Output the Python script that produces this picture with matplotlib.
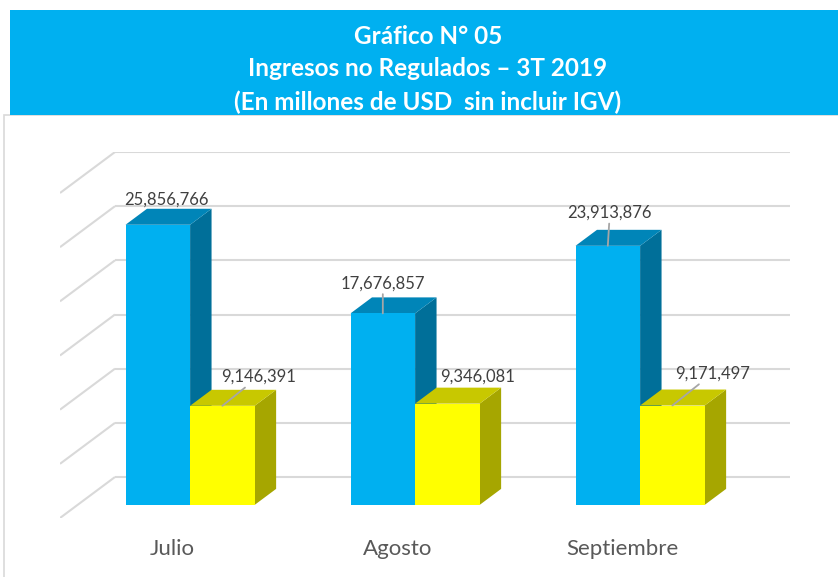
import matplotlib
matplotlib.use("Agg")
import matplotlib.pyplot as plt
from matplotlib.patches import Polygon, Rectangle

# ---- data ----
meses = ["Julio", "Agosto", "Septiembre"]
serie_azul = [25856766, 17676857, 23913876]
serie_amarilla = [9146391, 9346081, 9171497]
titulo = ["Gráfico N° 05", "Ingresos no Regulados – 3T 2019", "(En millones de USD  sin incluir IGV)"]

# ---- layout / style ----
W, H = 838, 577
FONT = ["Lato", "DejaVu Sans"]
plt.rcParams["font.family"] = FONT

fig = plt.figure(figsize=(W / 100, H / 100), dpi=100)
fig.patch.set_facecolor("white")

# chart frame border
fig.patches.append(Rectangle((4 / W, -0.1), 1.2, 1 - 115 / H + 0.1, transform=fig.transFigure,
                             fill=False, edgecolor="#D9D9D9", lw=1.2))
# title band
fig.patches.append(Rectangle((10 / W, 1 - 115 / H), 1.0, 105 / H, transform=fig.transFigure,
                             facecolor="#00B0F0", edgecolor="none"))
for k, (line, yy) in enumerate(zip(titulo, [37, 69, 102])):
    fig.text(428 / W, 1 - yy / H, line, ha="center", va="center", color="white",
             fontsize=17.5, fontweight="bold")

ax = fig.add_axes([60 / W, (H - 518) / H, 730 / W, 366 / H])
ax.axis("off")

ymax = 30e6
step = 5e6
px_per_unit = 325 / ymax
Ddx = 55 / 225          # depth shift (category units)
Ddy = 41 / px_per_unit  # depth shift (value units)
ax.set_xlim(-0.5, 2.5 + Ddx)
ax.set_ylim(0, ymax + Ddy)

grid_c = "#D9D9D9"
v = 0.0
while v <= ymax + 1:
    ax.plot([-0.5, -0.5 + Ddx], [v, v + Ddy], color=grid_c, lw=1.5, solid_capstyle="butt", zorder=1)
    ax.plot([-0.5 + Ddx, 2.5 + Ddx], [v + Ddy, v + Ddy], color=grid_c, lw=1.5, solid_capstyle="butt", zorder=1)
    v += step

w = 0.287
f0, f1 = 0.32, 0.71
colores = [("#00B0F0", "#0085B8", "#006F99"), ("#FFFF00", "#C8C800", "#A6A600")]

def draw_bar(x0, val, cols, z):
    x1 = x0 + w
    a0x, a0y = f0 * Ddx, f0 * Ddy
    a1x, a1y = f1 * Ddx, f1 * Ddy
    front = [(x0 + a0x, a0y), (x1 + a0x, a0y), (x1 + a0x, val + a0y), (x0 + a0x, val + a0y)]
    top = [(x0 + a0x, val + a0y), (x1 + a0x, val + a0y), (x1 + a1x, val + a1y), (x0 + a1x, val + a1y)]
    side = [(x1 + a0x, a0y), (x1 + a1x, a1y), (x1 + a1x, val + a1y), (x1 + a0x, val + a0y)]
    ax.add_patch(Polygon(side, closed=True, facecolor=cols[2], edgecolor="none", zorder=z))
    ax.add_patch(Polygon(top, closed=True, facecolor=cols[1], edgecolor="none", zorder=z))
    ax.add_patch(Polygon(front, closed=True, facecolor=cols[0], edgecolor="none", zorder=z))
    return ((x0 + x1) / 2 + a0x, val + a0y)

# label offsets (pixels) relative to top-front center of each bar, and leader visibility
off_azul = [(9, 25), (0, 30), (2, 33)]
off_amar = [(36, 29), (30, 27), (40, 32)]
lead_azul = [False, True, True]
lead_amar = [True, False, True]

for i in range(len(meses)):
    for s, (vals, offs, leads) in enumerate([(serie_azul, off_azul, lead_azul),
                                             (serie_amarilla, off_amar, lead_amar)]):
        x0 = i - w + s * w
        pt = draw_bar(x0, vals[i], colores[s], 3 + s)
        arrow = dict(arrowstyle="-", color="#A6A6A6", lw=1.3, shrinkA=0, shrinkB=0) if leads[i] else None
        ax.annotate(f"{vals[i]:,}", xy=pt, xytext=offs[i], textcoords="offset pixels",
                    ha="center", va="center", fontsize=12, color="#404040",
                    arrowprops=arrow, zorder=10, annotation_clip=False)
    ax.annotate(meses[i], xy=(i, 0), xytext=(0, -31), textcoords="offset pixels",
                ha="center", va="center", fontsize=16, color="#595959", annotation_clip=False)

fig.savefig("out.png", dpi=100)
